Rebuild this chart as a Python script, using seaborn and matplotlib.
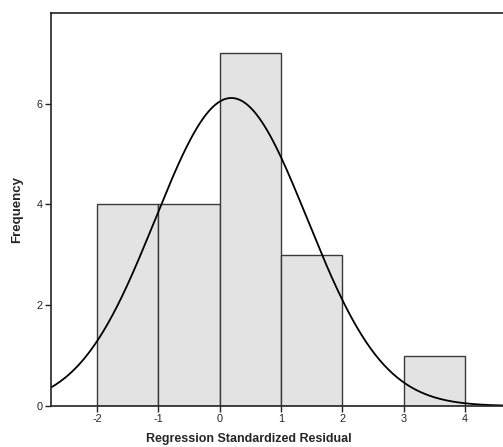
import numpy as np
import matplotlib
matplotlib.use("Agg")
import matplotlib.pyplot as plt
import seaborn as sns

# histogram
bin_edges = [-2, -1, 0, 1, 2, 3, 4]
bin_centers = [-1.5, -0.5, 0.5, 1.5, 2.5, 3.5]
counts = [4, 4, 7, 3, 0, 1]
# normal curve parameters
n_total = 19
curve_mean = 0.19
curve_sd = 1.24

sns.set_style("white")
plt.rcParams['font.family'] = ['Liberation Sans', 'DejaVu Sans']
plt.rcParams['axes.unicode_minus'] = False

fig = plt.figure(figsize=(5.03, 4.47), dpi=100)
ax = fig.add_axes([0.1014, 0.0917, 0.8986, 0.8793])

sns.histplot(x=bin_centers, weights=counts, bins=bin_edges, ax=ax,
             color="#e3e3e3", edgecolor="#3a3a3a", linewidth=1.0, alpha=1.0)

xs = np.linspace(-2.75, 4.62, 400)
ys = n_total * 1.0 * np.exp(-0.5 * ((xs - curve_mean) / curve_sd) ** 2) / (curve_sd * np.sqrt(2 * np.pi))
sns.lineplot(x=xs, y=ys, ax=ax, color="black", linewidth=1.3)

ax.set_xlim(-2.75, 4.62)
ax.set_ylim(0, 7.8)
ax.set_xticks([-2, -1, 0, 1, 2, 3, 4])
ax.set_yticks([0, 2, 4, 6])
ax.tick_params(axis="both", direction="out", length=4, width=1, labelsize=7.8,
               pad=2, colors="#222222", bottom=True, left=True)
for s in ["left", "bottom", "top"]:
    ax.spines[s].set_visible(True)
    ax.spines[s].set_color("#222222")
    ax.spines[s].set_linewidth(1.2)
ax.spines["right"].set_visible(False)

ax.set_xlabel("Regression Standardized Residual", fontsize=9, fontweight="bold")
ax.xaxis.set_label_coords(0.438, -0.068)
ax.set_ylabel("Frequency", fontsize=9.5, fontweight="bold", labelpad=10)

fig.savefig("out.png", dpi=100)
